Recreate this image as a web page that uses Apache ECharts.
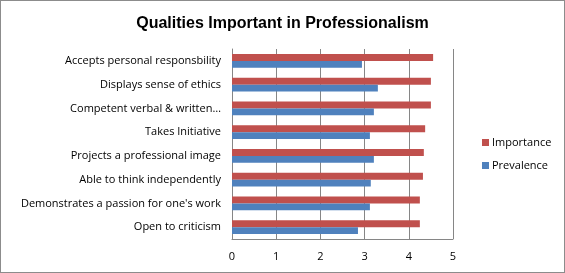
<!DOCTYPE html>
<html>
<head>
<meta charset="utf-8">
<script src="https://cdn.jsdelivr.net/npm/echarts@6/dist/echarts.min.js"></script>
<style>
  html, body { margin: 0; padding: 0; background: #fff; }
  #chart { width: 565px; height: 273px; box-sizing: border-box; border: 1px solid #8c8c8c; }
</style>
</head>
<body>
<div id="chart"></div>
<script>
// Qualities listed top to bottom
var categories = [
  "Accepts personal responsbility",
  "Displays sense of ethics",
  "Competent verbal & written\u2026",
  "Takes Initiative",
  "Projects a professional image",
  "Able to think independently",
  "Demonstrates a passion for one's work",
  "Open to criticism"
];
var importance = [4.55, 4.50, 4.50, 4.37, 4.34, 4.32, 4.25, 4.25];
var prevalence = [2.94, 3.30, 3.21, 3.12, 3.21, 3.14, 3.12, 2.85];
var xTicks = [0, 1, 2, 3, 4, 5];

var chart = echarts.init(document.getElementById('chart'), null, { renderer: 'canvas' });
var titleFont = 'Liberation Sans';
var font = 'Open Sans';
chart.setOption({
  animation: false,
  title: {
    text: 'Qualities Important in Professionalism',
    left: 'center',
    top: 10,
    textStyle: { fontFamily: titleFont, fontSize: 16, fontWeight: 'bold', color: '#000' }
  },
  legend: {
    orient: 'vertical',
    left: 476,
    top: 131,
    itemWidth: 7,
    itemHeight: 7,
    itemGap: 12,
    icon: 'rect',
    data: ['Importance', 'Prevalence'],
    textStyle: { fontFamily: font, fontSize: 11, color: '#000', padding: [0, 0, 0, -2] }
  },
  grid: { left: 231, top: 48, width: 221, height: 190, containLabel: false },
  xAxis: {
    type: 'value',
    min: xTicks[0],
    max: xTicks[xTicks.length - 1],
    interval: 1,
    axisLine: { show: true, lineStyle: { color: '#868686' } },
    axisTick: { show: false },
    axisLabel: { fontFamily: font, fontSize: 11, color: '#000', margin: 12 },
    splitLine: { show: true, lineStyle: { color: '#868686' } }
  },
  yAxis: {
    type: 'category',
    inverse: true,
    data: categories,
    axisLine: { show: true, lineStyle: { color: '#868686' } },
    axisTick: { show: false },
    axisLabel: { fontFamily: font, fontSize: 11, color: '#000', margin: 11 }
  },
  series: [
    {
      name: 'Importance',
      type: 'bar',
      data: importance,
      barGap: '0%',
      barCategoryGap: '42%',
      itemStyle: { color: '#C0504D' }
    },
    {
      name: 'Prevalence',
      type: 'bar',
      data: prevalence,
      barGap: '0%',
      barCategoryGap: '42%',
      itemStyle: { color: '#4F81BD' }
    }
  ]
});
</script>
</body>
</html>
